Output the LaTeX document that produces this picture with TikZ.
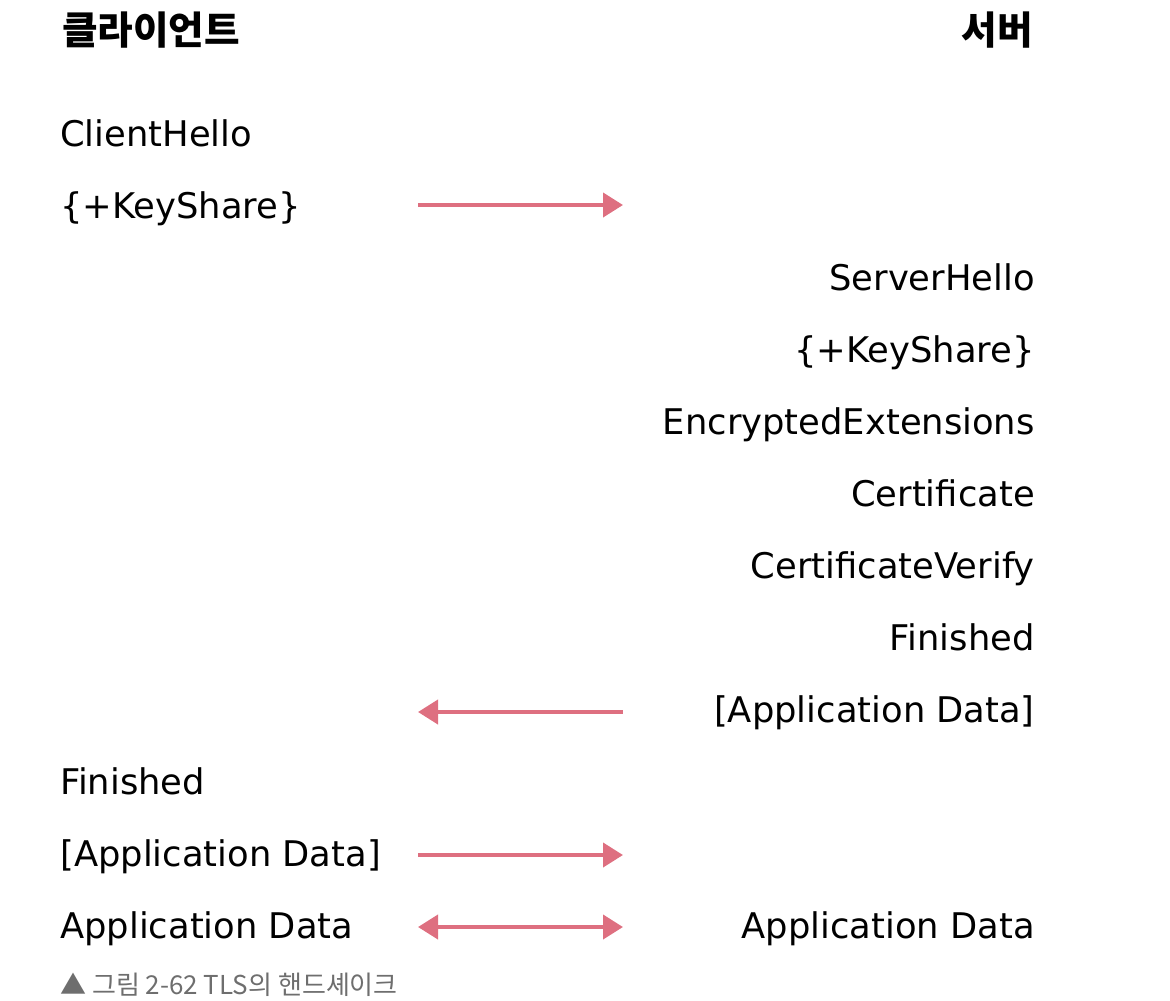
\documentclass[tikz,border=0pt]{standalone}
\usepackage{fontspec}
\setmainfont{DejaVu Sans}
\newfontfamily\krfont{Noto Sans CJK KR}
\usepackage{xcolor}
\definecolor{xpink}{HTML}{DE6F80}
\definecolor{xgray}{HTML}{6E6E6E}
\usetikzlibrary{arrows.meta}
\tikzset{
  %% Styles %%
  msg/.style = {font=\fontsize{26.5}{30}\selectfont, inner sep=0pt},
  msgleft/.style = {msg, anchor=base west},
  msgright/.style = {msg, anchor=base east},
  party/.style = {font=\krfont\bfseries\fontsize{29}{32}\selectfont, inner sep=0pt, #1},
  caption/.style = {font=\krfont\fontsize{19.5}{22}\selectfont, text=xgray, inner sep=0pt, anchor=base west},
  flow/.style = {#1, line width=3pt, draw=xpink},
  tip/.tip = {Triangle[length=15pt, width=18pt]}
}
\begin{document}
\begin{tikzpicture}[x=0.75pt, y=-0.75pt]
  \useasboundingbox (0,0) rectangle (1170,1000);

  % Parties
  \node[party={anchor=base west}] (client) at (62,44) {클라이언트};
  \node[party={anchor=base east}] (server) at (1033,44) {서버};

  % Client messages
  \node[msgleft] (c1) at (60,146) {ClientHello};
  \node[msgleft] (c2) at (60,218) {\{+KeyShare\}};
  \foreach \t [count=\k from 10] in {Finished, [Application Data], Application Data}
      \node[msgleft] (c\k) at (60,{146+(\k-1)*72}) {\t};

  % Server messages
  \foreach \t [count=\k from 3] in {ServerHello, {\{+KeyShare\}}, EncryptedExtensions, Certificate, CertificateVerify, Finished, [Application Data]}
      \node[msgright] (s\k) at (1035,{146+(\k-1)*72}) {\t};
  \node[msgright] (s12) at (1035,938) {Application Data};

  % Arrows
  \foreach \y [count=\k] in {205,712,855,927} {
      \coordinate (l\k) at (418,\y);
      \coordinate (r\k) at (623,\y);
  }
  \draw[flow={-tip}] (l1) -- (r1);
  \draw[flow={tip-}] (l2) -- (r2);
  \draw[flow={-tip}] (l3) -- (r3);
  \draw[flow={tip-tip}] (l4) -- (r4);

  % Caption
  \node[caption] (cap) at (60,994) {▲ 그림 2-62 TLS의 핸드셰이크};
\end{tikzpicture}
\end{document}
